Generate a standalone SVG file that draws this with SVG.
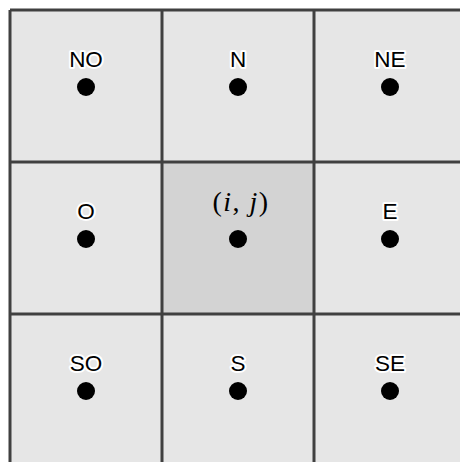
<svg xmlns="http://www.w3.org/2000/svg" width="460" height="462" viewBox="0 0 460 462">
<style>
.cell{fill:#e6e6e6}
.center{fill:#d3d3d3}
.grid{stroke:#404040;stroke-width:3;fill:none}
.dot{fill:#000}
.lbl{font-family:"Liberation Sans",Arial,sans-serif;font-size:22.5px;text-anchor:middle;fill:#000;stroke:#fff;stroke-width:4;stroke-linejoin:round;paint-order:stroke}
.math{font-family:"Liberation Serif","Times New Roman",serif;font-size:28px;text-anchor:middle;fill:#000;letter-spacing:1.5px}
</style>
<rect x="0" y="0" width="460" height="462" fill="#fff"/>
<rect class="cell" x="10" y="10" width="460" height="460"/>
<g id="NO"><circle class="dot" cx="86" cy="87" r="9"/><text class="lbl" x="86" y="67">NO</text></g>
<g id="N"><circle class="dot" cx="238" cy="87" r="9"/><text class="lbl" x="238" y="67">N</text></g>
<g id="NE"><circle class="dot" cx="390" cy="87" r="9"/><text class="lbl" x="390" y="67">NE</text></g>
<g id="O"><circle class="dot" cx="86" cy="239" r="9"/><text class="lbl" x="86" y="219">O</text></g>
<g id="C"><rect class="center" x="162" y="162" width="152" height="152"/><circle class="dot" cx="238" cy="239" r="9"/><text class="math" x="241" y="211">(<tspan font-style="italic">i</tspan>, <tspan font-style="italic">j</tspan>)</text></g>
<g id="E"><circle class="dot" cx="390" cy="239" r="9"/><text class="lbl" x="390" y="219">E</text></g>
<g id="SO"><circle class="dot" cx="86" cy="391" r="9"/><text class="lbl" x="86" y="371">SO</text></g>
<g id="S"><circle class="dot" cx="238" cy="391" r="9"/><text class="lbl" x="238" y="371">S</text></g>
<g id="SE"><circle class="dot" cx="390" cy="391" r="9"/><text class="lbl" x="390" y="371">SE</text></g>
<g id="grid">
<path class="grid" d="M10,10V470M162,10V470M314,10V470M466,10V470M10,10H470M10,162H470M10,314H470M10,466H470"/>
</g>
</svg>
